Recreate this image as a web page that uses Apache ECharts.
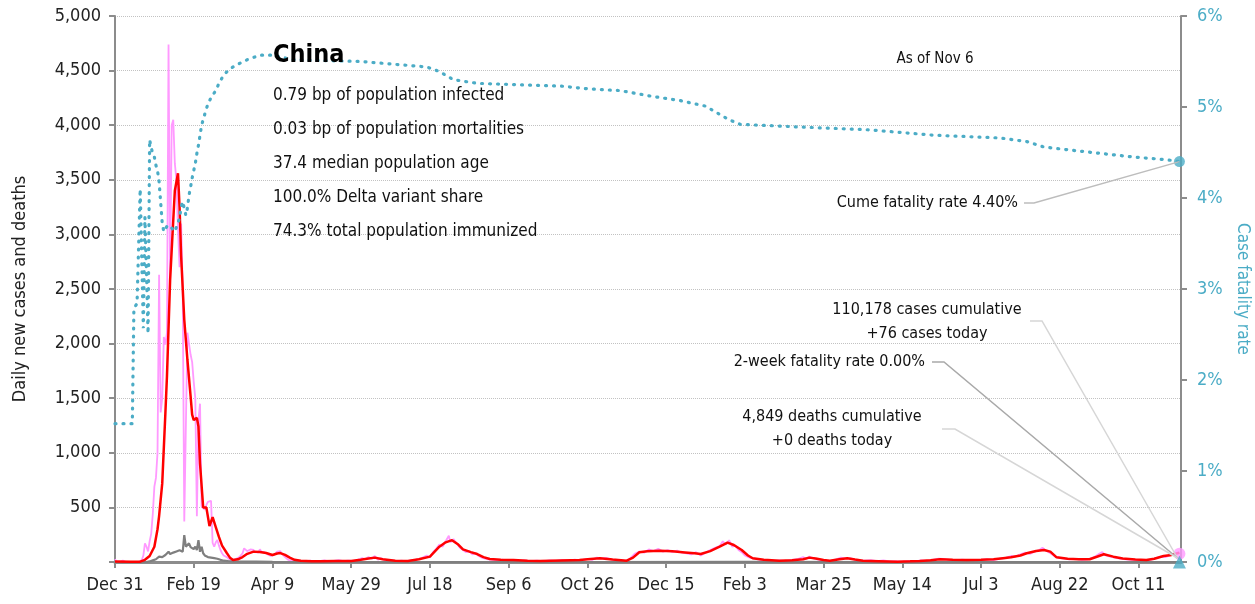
<!DOCTYPE html>
<html>
<head>
<meta charset="utf-8">
<title>China</title>
<script src="https://cdn.jsdelivr.net/npm/echarts@6.0.0/dist/echarts.min.js"></script>
<style>
  html, body { margin: 0; padding: 0; background: #fff; }
  #chart { width: 1255px; height: 604px; }
</style>
</head>
<body>
<div id="chart"></div>
<script>
// x is the day number, day 0 = Dec 31, 2019 (one tick every 50 days)
var tickLabels = ['Dec 31', 'Feb 19', 'Apr 9', 'May 29', 'Jul 18', 'Sep 6', 'Oct 26',
  'Dec 15', 'Feb 3', 'Mar 25', 'May 14', 'Jul 3', 'Aug 22', 'Oct 11'];

// daily new cases, day 0 .. day 120
var earlyCases = [
  27, 0, 17, 0, 0, 12, 0, 0, 0, 0,
  0, 0, 0, 0, 0, 0, 4, 17, 59, 170,
  140, 97, 190, 260, 440, 690, 770, 1000, 2630, 1370,
  1500, 2060, 1990, 2100, 4740, 2600, 4000, 4050, 3650, 3500,
  3050, 2700, 3100, 2500, 370, 380, 2100, 2000, 1900, 1830,
  1650, 1500, 420, 1300, 1450, 510, 500, 480, 520, 550,
  568, 560, 174, 140, 180, 201, 150, 110, 80, 60,
  50, 45, 30, 20, 15, 18, 25, 30, 35, 45,
  60, 80, 125, 110, 100, 90, 115, 100, 110, 90,
  100, 85, 116, 95, 80, 90, 94, 70, 60, 55,
  49, 65, 80, 95, 94, 100, 75, 60, 45, 30,
  20, 15, 12, 10, 8, 10, 6, 8, 5, 7,
  4
];

// daily new cases after day 120, [day, cases]
var laterCases = [
  [121, 5], [124, 12], [127, 3], [130, 8], [133, 14], [136, 6], [139, 11], [142, 16], [145, 7], [148, 12],
  [151, 9], [154, 20], [157, 35], [159, 25], [161, 45], [163, 30], [165, 55], [167, 22], [169, 35], [171, 18],
  [173, 10], [176, 15], [179, 8], [182, 12], [185, 6], [188, 15], [191, 22], [194, 30], [196, 45], [198, 60],
  [200, 40], [202, 90], [204, 120], [206, 160], [208, 140], [210, 190], [212, 240], [213, 180], [215, 210], [217, 170],
  [219, 130], [221, 110], [223, 90], [225, 100], [227, 70], [229, 80], [231, 55], [233, 40], [235, 30], [237, 25],
  [240, 20], [243, 15], [246, 22], [249, 12], [252, 18], [256, 10], [260, 15], [264, 8], [268, 12], [272, 6],
  [276, 14], [280, 10], [284, 20], [288, 12], [292, 22], [296, 15], [300, 28], [303, 20], [306, 40], [309, 30],
  [312, 38], [315, 25], [318, 15], [321, 20], [324, 8], [327, 30], [330, 75], [333, 95], [336, 85], [339, 115],
  [342, 100], [345, 120], [348, 95], [351, 110], [354, 90], [357, 105], [360, 85], [363, 80], [366, 70], [369, 90],
  [372, 60], [375, 85], [378, 110], [381, 130], [384, 145], [386, 190], [388, 160], [390, 200], [392, 140], [394, 150],
  [396, 110], [398, 90], [400, 60], [403, 40], [406, 30], [410, 20], [414, 15], [418, 10], [422, 14], [426, 8],
  [430, 20], [434, 28], [437, 45], [439, 30], [441, 50], [443, 35], [446, 25], [449, 15], [452, 10], [455, 12],
  [458, 25], [461, 40], [464, 30], [467, 35], [470, 20], [473, 15], [476, 12], [480, 18], [484, 8], [488, 14],
  [492, 5], [496, 8], [500, 4], [504, 10], [508, 6], [512, 14], [516, 10], [520, 22], [523, 30], [526, 28],
  [530, 20], [534, 15], [538, 22], [542, 18], [546, 12], [550, 20], [554, 25], [558, 18], [562, 30], [566, 40],
  [569, 55], [572, 50], [575, 70], [578, 85], [581, 75], [584, 95], [587, 110], [589, 130], [591, 105], [593, 90],
  [595, 70], [597, 50], [600, 35], [603, 30], [606, 25], [610, 28], [614, 20], [618, 25], [621, 40], [623, 55],
  [625, 75], [627, 90], [629, 60], [632, 50], [635, 40], [638, 30], [642, 25], [646, 20], [650, 18], [654, 12],
  [658, 22], [661, 35], [664, 50], [667, 45], [670, 60], [673, 70], [675, 90], [676, 76]
];

// 7-day average of new cases, [day, cases]
var avgCases = [
  [0, 4], [10, 3], [16, 3], [19, 20], [22, 55], [25, 140], [27, 300], [28, 420], [30, 720], [32, 1364],
  [33, 1700], [35, 2580], [37, 3130], [38, 3400], [40, 3560], [41, 3250], [42, 2800], [44, 2216], [46, 1850], [48, 1520],
  [49, 1350], [50, 1300], [52, 1320], [53, 1240], [54, 900], [56, 500], [58, 500], [59, 490], [60, 330], [62, 410],
  [64, 320], [66, 230], [68, 150], [71, 82], [73, 40], [75, 18], [78, 25], [81, 45], [84, 75], [88, 95],
  [92, 92], [96, 82], [100, 64], [103, 78], [105, 82], [108, 65], [111, 40], [114, 20], [118, 12], [125, 8],
  [130, 8], [140, 10], [150, 10], [156, 20], [160, 30], [165, 40], [170, 25], [178, 12], [186, 9], [193, 25],
  [200, 49], [206, 140], [210, 180], [214, 200], [218, 160], [221, 116], [226, 90], [230, 73], [234, 45], [238, 27],
  [245, 20], [253, 18], [262, 12], [270, 9], [283, 14], [295, 18], [302, 28], [308, 34], [316, 22], [325, 12],
  [329, 40], [333, 89], [338, 98], [346, 103], [354, 98], [362, 88], [368, 80], [372, 73], [378, 100], [384, 140],
  [389, 177], [393, 156], [398, 110], [402, 60], [405, 34], [412, 20], [422, 12], [430, 16], [437, 25], [441, 40],
  [445, 32], [450, 18], [454, 12], [460, 25], [465, 34], [470, 22], [475, 12], [485, 8], [497, 3], [505, 6],
  [511, 9], [518, 15], [524, 25], [532, 20], [541, 18], [550, 20], [558, 25], [564, 35], [569, 43], [575, 60],
  [579, 80], [585, 100], [590, 110], [594, 95], [598, 43], [605, 30], [612, 25], [619, 25], [624, 50], [628, 71],
  [634, 49], [640, 32], [648, 22], [655, 18], [660, 30], [666, 55], [671, 65], [676, 85]
];

// daily deaths, [day, deaths]
var dailyDeaths = [
  [0, 0], [20, 0], [21, 3], [22, 5], [23, 8], [24, 15], [25, 16], [26, 25], [27, 26], [28, 49],
  [29, 40], [30, 45], [31, 57], [32, 64], [33, 65], [34, 94], [35, 73], [36, 80], [37, 86], [38, 89],
  [39, 97], [40, 110], [41, 108], [42, 103], [43, 94], [44, 247], [45, 140], [46, 150], [47, 171], [48, 136],
  [49, 125], [50, 118], [51, 140], [52, 110], [53, 201], [54, 94], [55, 140], [56, 80], [57, 60], [58, 50],
  [59, 45], [60, 49], [61, 40], [62, 38], [63, 35], [64, 34], [65, 30], [66, 34], [67, 20], [68, 15],
  [69, 12], [70, 10], [72, 8], [75, 6], [80, 4], [90, 3], [100, 1], [110, 0], [200, 0], [300, 0],
  [400, 1], [500, 0], [600, 0], [676, 0]
];

// cumulative case fatality rate (%), [day, rate]
var cumeFatality = [
  [0, 1.52], [11, 1.52], [12, 2.79], [13, 2.80], [14, 2.84], [15, 2.84], [16, 4.10], [17, 4.10], [18, 2.57], [19, 3.79],
  [20, 3.20], [21, 2.51], [22, 4.64], [23, 4.55], [24, 4.49], [25, 4.45], [26, 4.36], [27, 4.30], [28, 4.18], [29, 3.95],
  [30, 3.72], [31, 3.63], [32, 3.66], [33, 3.69], [34, 3.66], [35, 3.65], [36, 3.67], [37, 3.66], [38, 3.63], [39, 3.68],
  [40, 3.70], [41, 3.78], [42, 3.90], [43, 3.96], [44, 3.96], [45, 3.81], [46, 3.89], [47, 4.03], [48, 4.12], [49, 4.22],
  [50, 4.30], [51, 4.38], [52, 4.49], [53, 4.58], [54, 4.69], [55, 4.80], [56, 4.86], [57, 4.92], [58, 4.98], [59, 5.03],
  [60, 5.07], [62, 5.13], [64, 5.18], [66, 5.26], [68, 5.32], [70, 5.37], [74, 5.43], [78, 5.47], [84, 5.52], [92, 5.57],
  [100, 5.57], [113, 5.52], [156, 5.50], [198, 5.44], [206, 5.39], [215, 5.30], [230, 5.26], [283, 5.23], [300, 5.20], [321, 5.18],
  [340, 5.12], [359, 5.07], [375, 5.01], [381, 4.95], [390, 4.86], [397, 4.81], [435, 4.78], [478, 4.75], [520, 4.69], [562, 4.66],
  [579, 4.62], [590, 4.56], [605, 4.53], [626, 4.49], [647, 4.45], [668, 4.42], [676, 4.40]
];

var lastDay = 676;
var lastCases = 76;
var lastCfr = 4.40;
var twoWeekCfr = 0;

var infoLines = [
  '0.79 bp of population infected',
  '0.03 bp of population mortalities',
  '37.4 median population age',
  '100.0% Delta variant share',
  '74.3% total population immunized'
];

var FONT = '"Liberation Sans Narrow", "DejaVu Sans Condensed", "Roboto Condensed", "Arial Narrow", sans-serif';
var TEAL = '#4bacc6';
var PINK = '#ff99ff';

var cases = earlyCases.map(function (v, i) { return [i, v]; }).concat(laterCases);

var chart = echarts.init(document.getElementById('chart'));

var option = {
  animation: false,
  backgroundColor: '#fff',
  textStyle: { fontFamily: FONT },
  grid: { left: 115, right: 74, top: 16, bottom: 42, outerBoundsMode: 'none' },
  xAxis: {
    type: 'value', min: 0, max: 677, interval: 50,
    axisLine: { show: true, lineStyle: { color: '#8c8c8c', width: 3 } },
    axisTick: { show: true, length: 6, lineStyle: { color: '#8c8c8c', width: 2 } },
    axisLabel: {
      fontFamily: FONT, fontSize: 18, color: '#222', margin: 14, showMaxLabel: false,
      formatter: function (v) { return tickLabels[v / 50] || ''; }
    },
    splitLine: { show: false }
  },
  yAxis: [{
    type: 'value', min: 0, max: 5000, interval: 500,
    name: 'Daily new cases and deaths', nameLocation: 'middle', nameGap: 86, nameRotate: 90,
    nameTextStyle: { fontFamily: FONT, fontSize: 18, color: '#222' },
    axisLine: { show: true, lineStyle: { color: '#8c8c8c', width: 2 } },
    axisTick: { show: true, length: 6, lineStyle: { color: '#8c8c8c', width: 2 } },
    axisLabel: {
      fontFamily: FONT, fontSize: 18, color: '#222', margin: 14,
      formatter: function (v) { return v === 0 ? '' : v.toLocaleString('en-US'); }
    },
    splitLine: { show: true, lineStyle: { color: '#c2c2c2', type: 'dotted', width: 1 } }
  }, {
    type: 'value', min: 0, max: 6, interval: 1, position: 'right',
    name: 'Case fatality rate', nameLocation: 'middle', nameGap: 52, nameRotate: -90,
    nameTextStyle: { fontFamily: FONT, fontSize: 17, color: TEAL },
    axisLine: { show: true, lineStyle: { color: '#8c8c8c', width: 2 } },
    axisTick: { show: true, length: 6, lineStyle: { color: '#8c8c8c', width: 2 } },
    axisLabel: {
      fontFamily: FONT, fontSize: 18, color: TEAL, margin: 16,
      formatter: function (v) { return v + '%'; }
    },
    splitLine: { show: false }
  }],
  series: [{
    name: 'Daily cases', type: 'line', data: cases, showSymbol: false, z: 1,
    lineStyle: { color: PINK, width: 1.8 }
  }, {
    name: 'Daily deaths', type: 'line', data: dailyDeaths, showSymbol: false, z: 2,
    lineStyle: { color: '#7f7f7f', width: 2.2 }
  }, {
    name: '7-day average', type: 'line', data: avgCases, showSymbol: false, z: 3,
    lineStyle: { color: '#ff0000', width: 2.5 }
  }, {
    name: 'Cume fatality rate', type: 'line', yAxisIndex: 1, data: cumeFatality, showSymbol: false, z: 4,
    lineStyle: { color: TEAL, width: 3.2, type: [1, 7], cap: 'round' }
  }, {
    type: 'scatter', data: [[lastDay, lastCases]], symbolSize: 12, clip: false, z: 5,
    itemStyle: { color: PINK }
  }, {
    type: 'scatter', yAxisIndex: 1, data: [[lastDay, lastCfr]], symbolSize: 11, clip: false, z: 6,
    itemStyle: { color: TEAL }
  }, {
    type: 'scatter', yAxisIndex: 1, data: [[lastDay, twoWeekCfr]], symbol: 'triangle', symbolSize: 13, clip: false, z: 6,
    itemStyle: { color: TEAL }
  }]
};

chart.setOption(option);

// leader lines end at the last points
var endLow = chart.convertToPixel({ seriesIndex: 4 }, [lastDay, 0]);
var endCfr = chart.convertToPixel({ seriesIndex: 5 }, [lastDay, lastCfr]);
var ex = endLow[0] - 2, ey = endLow[1] - 4;

function txt(x, y, s, size, align, extra) {
  var style = { text: s, font: size + 'px ' + FONT, fill: '#111', align: align, verticalAlign: 'middle' };
  if (extra) { for (var k in extra) style[k] = extra[k]; }
  return { type: 'text', x: x, y: y, z: 100, style: style };
}
function leader(points, color) {
  return { type: 'polyline', z: 90, shape: { points: points }, style: { stroke: color, lineWidth: 1.5, fill: null } };
}

var graphics = [
  txt(273, 55, 'China', 24, 'left', { font: 'bold 25px ' + FONT, fill: '#000' }),
  txt(935, 59, 'As of Nov 6', 15, 'center'),
  txt(1018, 203, 'Cume fatality rate 4.40%', 16, 'right'),
  txt(927, 322, '110,178 cases cumulative\n+76 cases today', 16, 'center', { lineHeight: 24 }),
  txt(925, 362, '2-week fatality rate 0.00%', 16, 'right'),
  txt(832, 429, '4,849 deaths cumulative\n+0 deaths today', 16, 'center', { lineHeight: 24 }),
  leader([[1024, 203], [1034, 203], [endCfr[0], endCfr[1]]], '#bdbdbd'),
  leader([[1030, 321], [1042, 321], [ex, ey]], '#d6d6d6'),
  leader([[932, 362], [944, 362], [ex, ey]], '#a9a9a9'),
  leader([[942, 429], [955, 429], [ex, ey]], '#d6d6d6')
];
infoLines.forEach(function (s, i) {
  graphics.push(txt(273, 96 + i * 34, s, 17, 'left'));
});

chart.setOption({ graphic: graphics });
</script>
</body>
</html>
